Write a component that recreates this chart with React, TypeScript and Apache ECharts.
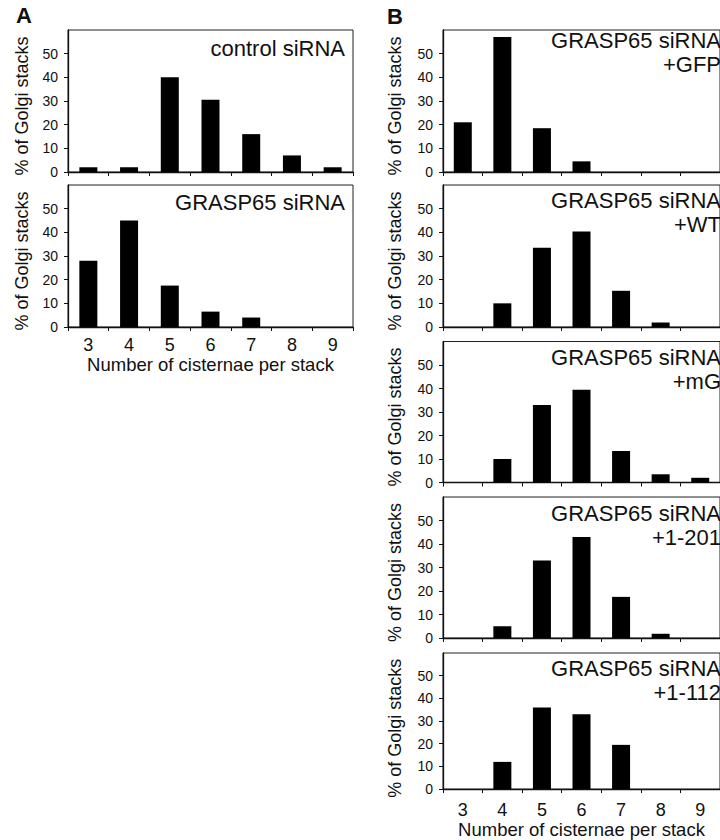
import React, { useEffect, useRef } from "react";
import * as echarts from "echarts";

const categories = ["3", "4", "5", "6", "7", "8", "9"];
const yTicks = [0, 10, 20, 30, 40, 50];

const controlSiRNA = [2, 2, 40, 30.5, 16, 7, 2];
const grasp65SiRNA = [28, 45, 17.5, 6.5, 4, 0, 0];
const graspGFP = [21, 57, 18.5, 4.5, 0, 0, 0];
const graspWT = [0, 10, 33.5, 40.3, 15.3, 1.9, 0];
const graspMG = [0, 10, 33, 39.5, 13.4, 3.5, 2];
const grasp1to201 = [0, 5, 33, 43, 17.5, 1.8, 0];
const grasp1to112 = [0, 12, 36, 33, 19.5, 0, 0];

const panelTitles = [
  "control siRNA",
  "GRASP65 siRNA",
  "GRASP65 siRNA\n+GFP",
  "GRASP65 siRNA\n+WT",
  "GRASP65 siRNA\n+mG",
  "GRASP65 siRNA\n+1-201",
  "GRASP65 siRNA\n+1-112",
];
const yAxisTitle = "% of Golgi stacks";
const xAxisTitle = "Number of cisternae per stack";

const FONT = "'Liberation Sans', Arial, Helvetica, sans-serif";
const INK = "#111";

export default function App() {
  const ref = useRef<HTMLDivElement>(null);
  useEffect(() => {
    document.body.style.margin = "0";
    const chart = echarts.init(ref.current!, undefined, { renderer: "svg" });

    const seriesData = [
      controlSiRNA,
      grasp65SiRNA,
      graspGFP,
      graspWT,
      graspMG,
      grasp1to201,
      grasp1to112,
    ];
    // tc: title center y, tr: title right x, yx: y-title center x
    const layouts = [
      { left: 68, top: 30, width: 285, height: 142, xl: false, tc: 48.7, tr: 345, yx: 21.5, lm: 9, ng: 27 },
      { left: 68, top: 185, width: 285, height: 142, xl: true, tc: 202.8, tr: 345, yx: 21.5, lm: 9, ng: 27 },
      { left: 443, top: 30, width: 284, height: 142, xl: false, tc: 52, tr: 721, yx: 395, lm: 9, ng: 27 },
      { left: 443, top: 185, width: 284, height: 142, xl: false, tc: 212.9, tr: 721, yx: 395, lm: 9, ng: 27 },
      { left: 443, top: 341.5, width: 284, height: 141, xl: false, tc: 369.6, tr: 721, yx: 395, lm: 9, ng: 27 },
      { left: 443, top: 497, width: 284, height: 141, xl: false, tc: 525.6, tr: 721, yx: 395, lm: 9, ng: 27 },
      { left: 443, top: 653, width: 284, height: 140.5, xl: true, tc: 680.4, tr: 721, yx: 395, lm: 12, ng: 29 },
    ];

    const grid = layouts.map((l) => ({
      left: l.left,
      top: l.top,
      width: l.width,
      height: l.height,
      show: true,
      borderColor: "#222",
      borderWidth: 1,
      backgroundColor: "transparent",
      containLabel: false,
    }));

    const xAxis = layouts.map((l, i) => ({
      type: "category",
      gridIndex: i,
      data: categories,
      boundaryGap: true,
      axisLine: { show: true, lineStyle: { color: INK, width: 1.3 } },
      axisTick: { show: true, length: 4, inside: false, lineStyle: { color: INK } },
      axisLabel: {
        show: l.xl,
        fontSize: 18,
        fontFamily: FONT,
        color: INK,
        margin: l.lm,
      },
      splitLine: { show: false },
      name: l.xl ? xAxisTitle : "",
      nameLocation: "middle",
      nameGap: l.ng,
      nameTextStyle: { fontSize: 18.5, fontFamily: FONT, color: INK },
    }));

    const yAxis = layouts.map((l, i) => ({
      type: "value",
      gridIndex: i,
      min: 0,
      max: 60,
      interval: 10,
      axisLine: { show: true, lineStyle: { color: INK, width: 1.3 } },
      axisTick: {
        show: true,
        length: 4,
        inside: false,
        lineStyle: { color: INK },
        customValues: yTicks,
      },
      axisLabel: {
        fontSize: 14,
        fontFamily: FONT,
        color: INK,
        margin: 10,
        customValues: yTicks,
        formatter: (v: number) => (yTicks.indexOf(v) >= 0 ? String(v) : ""),
      },
      splitLine: { show: false },
    }));

    const series = seriesData.map((d, i) => ({
      type: "bar",
      xAxisIndex: i,
      yAxisIndex: i,
      data: d,
      barWidth: 18,
      itemStyle: { color: "#000" },
      silent: true,
    }));

    const graphic: any[] = [];
    layouts.forEach((l, i) => {
      graphic.push({
        type: "text",
        x: l.tr,
        y: l.tc,
        style: {
          text: panelTitles[i],
          fontSize: 22,
          lineHeight: 24,
          fontFamily: FONT,
          fill: INK,
          align: "right",
          verticalAlign: "middle",
          textAlign: "right",
          textVerticalAlign: "middle",
        },
        silent: true,
      });
      graphic.push({
        type: "text",
        x: l.yx,
        y: l.top + l.height / 2 + 5,
        rotation: Math.PI / 2,
        style: {
          text: yAxisTitle,
          fontSize: 18,
          fontFamily: FONT,
          fill: INK,
          align: "center",
          verticalAlign: "middle",
          textAlign: "center",
          textVerticalAlign: "middle",
        },
        silent: true,
      });
    });
    graphic.push({
      type: "text",
      x: 24,
      y: 15.5,
      style: {
        text: "A",
        fontSize: 22,
        fontWeight: "bold",
        fontFamily: FONT,
        fill: INK,
        align: "center",
        verticalAlign: "middle",
        textAlign: "center",
        textVerticalAlign: "middle",
      },
    });
    graphic.push({
      type: "text",
      x: 395,
      y: 16,
      style: {
        text: "B",
        fontSize: 22,
        fontWeight: "bold",
        fontFamily: FONT,
        fill: INK,
        align: "center",
        verticalAlign: "middle",
        textAlign: "center",
        textVerticalAlign: "middle",
      },
    });

    chart.setOption({
      animation: false,
      backgroundColor: "#fff",
      textStyle: { fontFamily: FONT },
      grid,
      xAxis,
      yAxis,
      series,
      graphic,
    } as any);

    return () => chart.dispose();
  }, []);

  return (
    <div
      ref={ref}
      style={{ width: 720, height: 840, position: "absolute", left: 0, top: 0 }}
    />
  );
}
